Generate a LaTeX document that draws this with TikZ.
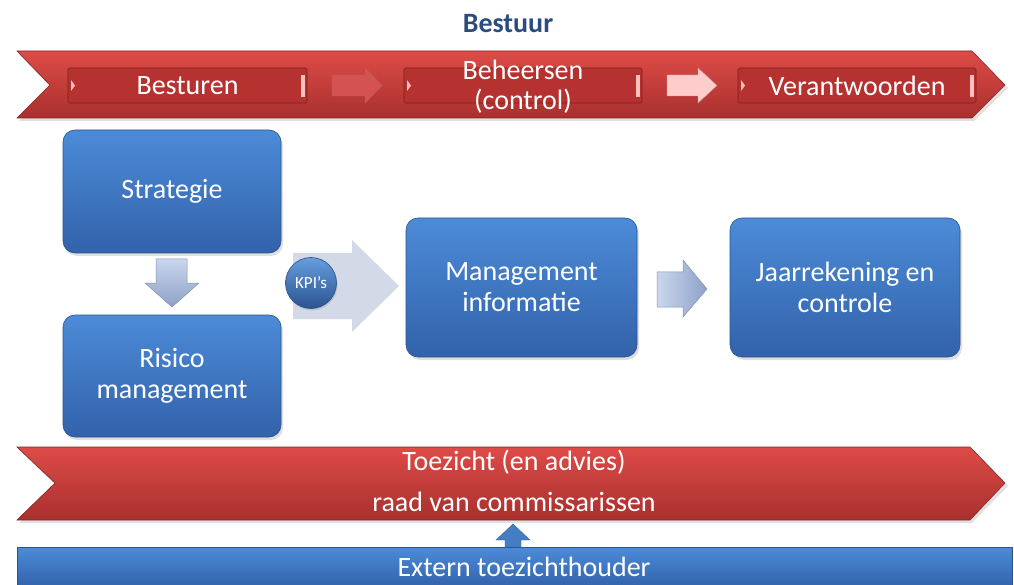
\documentclass[tikz,border=0pt]{standalone}
\usepackage{fontspec}
\setmainfont{Carlito}
\usetikzlibrary{shadows}
\definecolor{ribtop}{HTML}{DE4B47}
\definecolor{ribbot}{HTML}{A8302E}
\definecolor{innerred}{HTML}{B63230}
\definecolor{bluetop}{HTML}{4C8BD8}
\definecolor{bluebot}{HTML}{3262AA}
\definecolor{titleblue}{HTML}{2B4C7E}
\definecolor{greyarrow}{HTML}{D3D9E6}
\definecolor{steeltop}{HTML}{CAD6EC}
\definecolor{steelbot}{HTML}{8DA2C8}
\tikzset{
  ribbon/.style={top color=ribtop, bottom color=ribbot, draw=ribbot!80!black, line width=0.6pt},
  innerbox/.style={draw=ribbot!70!black, fill=innerred, line width=0.6pt, rounded corners=1.5pt},
  bluebox/.style={rectangle, rounded corners=12pt, top color=bluetop, bottom color=bluebot,
     draw=bluebot!85!black, line width=0.6pt, text=white, align=center,
     font=\fontsize{28}{31}\selectfont,
     drop shadow={opacity=0.25, shadow xshift=2pt, shadow yshift=-3pt}},
  ribtext/.style={text=white, font=\fontsize{28}{30}\selectfont, align=center},
  bluearrow/.style={top color=steeltop, bottom color=steelbot, draw=steelbot!90!black, line width=0.5pt},
}
\begin{document}
\begin{tikzpicture}[x=1pt,y=-1pt]
\useasboundingbox (0,0) rectangle (1014,585);
% title
\node[text=titleblue, font=\bfseries\fontsize{28}{32}\selectfont] (title) at (508,24) {Bestuur};
% top ribbon
\fill[black, opacity=0.12] (19,54) -- (974,54) -- (1008,88) -- (974,121) -- (19,121) -- (51,88) -- cycle;
\path[ribbon] (17,51) -- (972,51) -- (1005,85) -- (972,118) -- (17,118) -- (50,85) -- cycle;
% inner boxes
\foreach \xa/\xb in {68/307, 404/642, 738/976}{
  \path[innerbox] (\xa,68) rectangle (\xb,103);
  \fill[red!25!white] (\xa+3,80) -- (\xa+7,85.5) -- (\xa+3,91) -- cycle;
  \fill[red!25!white] (\xb-6,75) rectangle (\xb-2,97);
}
\node[ribtext] (bst) at (187.5,86) {Besturen};
\node[ribtext] (bhs) at (523,87) {Beheersen\\(control)};
\node[ribtext] (vrw) at (857,86) {Verantwoorden};
% ribbon arrows
\fill[red!60!gray!85!white, draw=red!50!black!60, line width=0.4pt] (332,75) -- (365,75) -- (365,68) -- (382,85.5) -- (365,103) -- (365,96) -- (332,96) -- cycle;
\fill[red!20!white, draw=red!30!gray!60, line width=0.4pt] (667,75) -- (698,75) -- (698,68) -- (717,85.5) -- (698,103) -- (698,96) -- (667,96) -- cycle;
% blue boxes
\node[bluebox, minimum width=218pt, minimum height=123pt] (strat) at (172,191.5) {Strategie};
\node[bluebox, minimum width=218pt, minimum height=122pt] (risico) at (172,376) {Risico\\management};
\node[bluebox, minimum width=231pt, minimum height=139pt] (mi) at (521.5,287.5) {Management\\informatie};
\node[bluebox, minimum width=230pt, minimum height=139pt] (jaar) at (845,287.5) {Jaarrekening en\\controle};
% down arrow
\path[bluearrow] (156,259) -- (187,259) -- (187,283) -- (199,283) -- (172,307) -- (145,283) -- (156,283) -- cycle;
% KPI arrow
\fill[greyarrow] (293,253) -- (352,253) -- (352,240) -- (399,286) -- (352,332) -- (352,319) -- (293,319) -- cycle;
\node[circle, minimum size=51pt, inner sep=0pt, top color=bluetop!85!white, bottom color=bluebot!85!black, draw=bluebot!80!black, line width=0.6pt, text=white, font=\fontsize{17}{19}\selectfont,
  drop shadow={opacity=0.25, shadow xshift=1pt, shadow yshift=-2pt}] (kpi) at (311,283) {KPI’s};
% right arrow
\path[bluearrow, left color=steeltop, right color=steelbot] (657,272) -- (683,272) -- (683,260) -- (707,289) -- (683,317) -- (683,307) -- (657,307) -- cycle;
% bottom ribbon
\fill[black, opacity=0.12] (19,450) -- (972,450) -- (1008,486) -- (972,523) -- (19,523) -- (57,486) -- cycle;
\path[ribbon] (17,447) -- (970,447) -- (1005,483) -- (970,520) -- (17,520) -- (55,483) -- cycle;
\node[ribtext] (toez) at (514,462) {Toezicht (en advies)};
\node[ribtext] (raad) at (514,502) {raad van commissarissen};
% bottom bar
\node[rectangle, minimum width=995pt, minimum height=40pt, inner sep=0pt, top color=bluetop, bottom color=bluebot, draw=bluebot!85!black, line width=0.5pt, anchor=north west] (extern) at (17,547) {};
\node[ribtext] (exttxt) at (524,567) {Extern toezichthouder};
% small double arrow
\fill[bluetop!90!black, draw=bluebot, line width=0.4pt] (513,524) -- (530,540) -- (521,540) -- (521,547) -- (505,547) -- (505,540) -- (496,540) -- cycle;
\end{tikzpicture}
\end{document}
